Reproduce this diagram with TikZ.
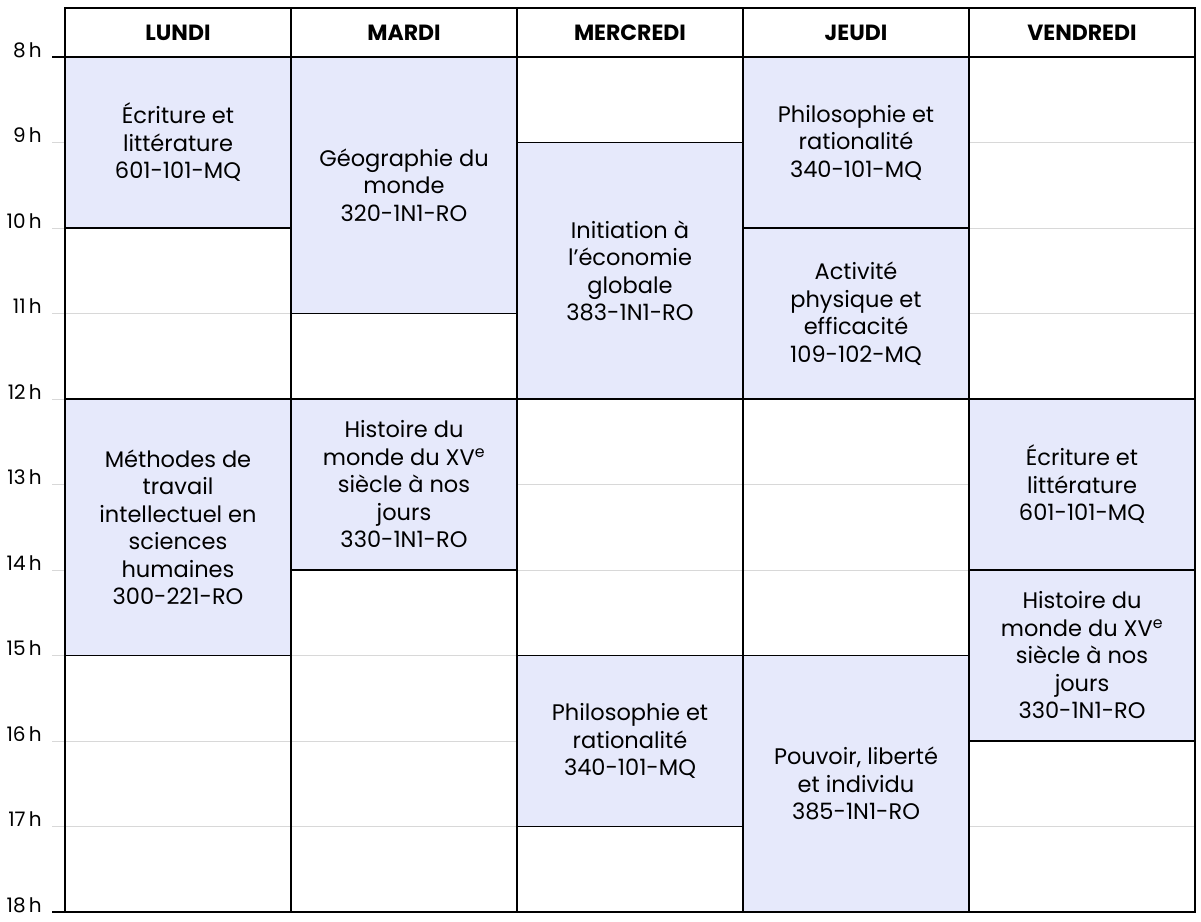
\documentclass[tikz,border=0pt]{standalone}
\usepackage{fontspec}
\setmainfont{Poppins}
\definecolor{blk}{HTML}{E6E9FB}
\definecolor{grl}{HTML}{D8D8D8}
\begin{document}
\begin{tikzpicture}[x=1pt,y=-1pt,
  course/.style={draw=black,line width=1.5pt,fill=blk},
  ctext/.style={align=center,font=\fontsize{22.5}{27.5}\selectfont,inner sep=0pt},
  head/.style={font=\bfseries\fontsize{22}{24}\selectfont},
  hlab/.style={anchor=east,font=\fontsize{20}{22}\selectfont,inner sep=0pt}]
\useasboundingbox (0,0) rectangle (1201,921);
% gray lines
\foreach \h in {9,...,17}{
  \draw[grl,line width=1pt] (52,{57+85.5*(\h-8)}) -- (1195,{57+85.5*(\h-8)});
  \node[hlab] (h\h) at (42,{50+85.5*(\h-8)}) {\h\,h};
}
\node[hlab] (h8) at (42,50) {8\,h};
\node[hlab] (h18) at (42,905) {18\,h};
\newcommand\course[5]{% name, col, h0, h1, text
  \pgfmathsetmacro\xa{65+226*#2}\pgfmathsetmacro\xb{65+226*(#2+1)}
  \pgfmathsetmacro\ya{57+85.5*(#3-8)}\pgfmathsetmacro\yb{57+85.5*(#4-8)}
  \draw[course] (\xa,\ya) rectangle (\xb,\yb);
  \node[ctext] (#1) at ({(\xa+\xb)/2},{(\ya+\yb)/2}) {#5};}
\course{l1}{0}{8}{10}{Écriture et\\littérature\\601-101-MQ}
\course{l2}{0}{12}{15}{Méthodes de\\travail\\intellectuel en\\sciences\\humaines\\300-221-RO}
\course{m1}{1}{8}{11}{Géographie du\\monde\\320-1N1-RO}
\course{m2}{1}{12}{14}{Histoire du\\monde du XV\textsuperscript{e}\\siècle à nos\\jours\\330-1N1-RO}
\course{w1}{2}{9}{12}{Initiation à\\l’économie\\globale\\383-1N1-RO}
\course{w2}{2}{15}{17}{Philosophie et\\rationalité\\340-101-MQ}
\course{j1}{3}{8}{10}{Philosophie et\\rationalité\\340-101-MQ}
\course{j2}{3}{10}{12}{Activité\\physique et\\efficacité\\109-102-MQ}
\course{j3}{3}{15}{18}{Pouvoir, liberté\\et individu\\385-1N1-RO}
\course{v1}{4}{12}{14}{Écriture et\\littérature\\601-101-MQ}
\course{v2}{4}{14}{16}{Histoire du\\monde du XV\textsuperscript{e}\\siècle à nos\\jours\\330-1N1-RO}
% structure lines
\draw[line width=1.5pt] (65,399) -- (1195,399);
\foreach \x in {291,517,743,969}{\draw[line width=1.5pt] (\x,8) -- (\x,912);}
\draw[line width=2pt] (65,8) rectangle (1195,912);
\draw[line width=2pt] (52,57) -- (1195,57);
\draw[line width=2pt] (52,912) -- (65,912);
% headers
\foreach \n/\t [count=\i from 0] in {hl/LUNDI,hm/MARDI,hw/MERCREDI,hj/JEUDI,hv/VENDREDI}
  \node[head] (\n) at ({65+226*\i+113},33) {\t};
\end{tikzpicture}
\end{document}
